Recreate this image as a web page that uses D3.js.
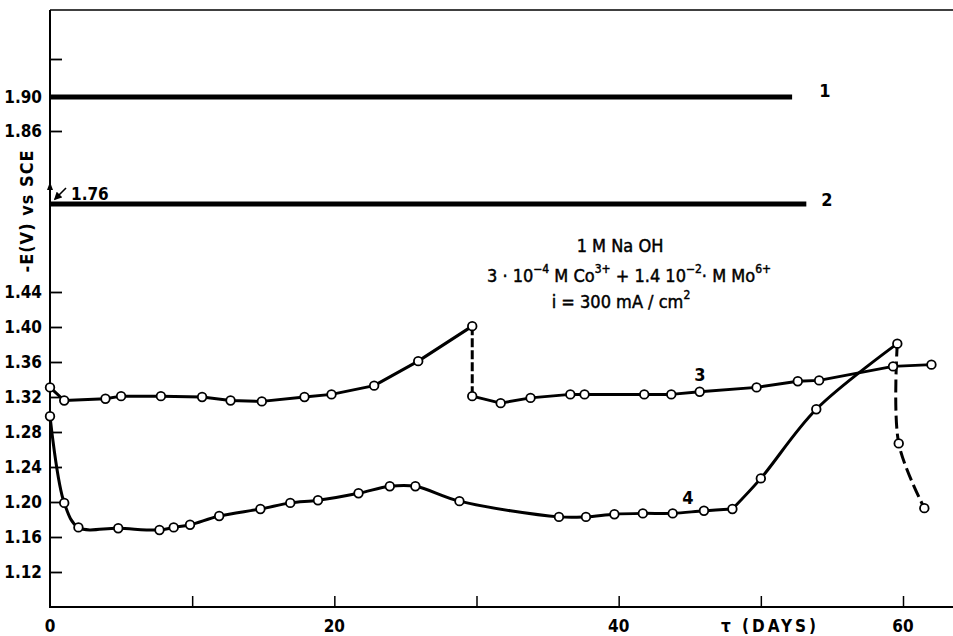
<!DOCTYPE html>
<html><head><meta charset="utf-8">
<script src="https://cdn.jsdelivr.net/npm/d3@7/dist/d3.min.js"></script>
<style>html,body{margin:0;padding:0;background:#fff;} svg{display:block;}</style>
</head><body>
<svg id="chart" width="953" height="636"></svg>
<script>
// ---- data ----
const line1 = {days:[0, 52.2], vals:[1.90, 1.90]};
const line2 = {days:[0, 53.2], vals:[1.76, 1.76]};

const curve3aDays = [0, 1.0, 3.9, 5.0, 7.8, 10.7, 12.7, 14.9, 17.9, 19.8, 22.8, 25.9, 29.7];
const curve3aVals = [1.331, 1.316, 1.318, 1.321, 1.321, 1.320, 1.316, 1.315, 1.320, 1.323, 1.333, 1.361, 1.401];
const curve3DropDays = [29.7, 29.7];
const curve3DropVals = [1.401, 1.321];
const curve3bDays = [29.7, 31.7, 33.8, 36.6, 37.6, 41.8, 43.7, 45.7, 49.7, 52.6, 54.1, 59.3, 62.0];
const curve3bVals = [1.321, 1.313, 1.319, 1.323, 1.323, 1.323, 1.323, 1.326, 1.331, 1.338, 1.339, 1.355, 1.357];

const curve4aDays = [0, 1.0, 2.0, 4.8, 7.7, 8.7, 9.85, 11.9, 14.8, 16.9, 18.85, 21.7, 23.9, 25.7, 28.8, 35.8, 37.7, 39.7, 41.7, 43.8, 46.0, 48.0];
const curve4aVals = [1.298, 1.199, 1.171, 1.170, 1.168, 1.171, 1.174, 1.184, 1.192, 1.199, 1.202, 1.210, 1.218, 1.218, 1.201, 1.183, 1.183, 1.186, 1.187, 1.187, 1.190, 1.192];
const curve4bDays = [48.0, 50.0, 53.9, 59.6];
const curve4bVals = [1.192, 1.227, 1.306, 1.381];
const curve4DropDays = [59.6, 59.7, 61.5];
const curve4DropVals = [1.381, 1.267, 1.193];

const xTickVals = [10, 20, 30, 40, 50, 60];
const xTickLabels = [0, 20, 40, 60];
const yTickVals = [1.12, 1.16, 1.20, 1.24, 1.28, 1.32, 1.36, 1.40, 1.44, 1.86, 1.94];
const yTickLabels = [1.12, 1.16, 1.20, 1.24, 1.28, 1.32, 1.36, 1.40, 1.44, 1.86, 1.90];

// ---- scales ----
const x = d3.scaleLinear().domain([0, 60]).range([50, 903]);
// broken (piecewise) voltage axis
const y = d3.scaleLinear().domain([1.08, 1.44, 1.76, 1.86, 1.90, 1.94]).range([607, 292, 204, 131, 97, 59]);

const svg = d3.select("#chart");
const FONT = "'DejaVu Sans Condensed','DejaVu Sans',sans-serif";
const zip = (d, v) => d.map((di, i) => [di, v[i]]);

// frame: left axis, bottom axis, top border
svg.append("line").attr("x1",50).attr("x2",50).attr("y1",10).attr("y2",608).attr("stroke","#000").attr("stroke-width",2);
svg.append("line").attr("x1",49).attr("x2",953).attr("y1",607).attr("y2",607).attr("stroke","#000").attr("stroke-width",2);
svg.append("line").attr("x1",50).attr("x2",953).attr("y1",10).attr("y2",10).attr("stroke","#000").attr("stroke-width",1.5);

// y ticks (inward)
const yAxis = d3.axisRight(y).tickValues(yTickVals).tickSize(12).tickFormat("");
const gy = svg.append("g").attr("transform","translate(50,0)").call(yAxis);
gy.select(".domain").remove();
gy.selectAll(".tick line").attr("stroke","#000").attr("stroke-width",1.8);

svg.append("g").selectAll("text").data(yTickLabels).join("text")
  .attr("x", 42).attr("y", d => y(d) + 6)
  .attr("text-anchor","end").attr("font-family",FONT).attr("font-weight","bold")
  .attr("font-size",17).text(d => d.toFixed(2));

// x ticks (inward)
const xAxis = d3.axisTop(x).tickValues(xTickVals).tickSize(11).tickFormat("");
const gx = svg.append("g").attr("transform","translate(0,607)").call(xAxis);
gx.select(".domain").remove();
gx.selectAll(".tick line").attr("stroke","#000").attr("stroke-width",1.5);

svg.append("g").selectAll("text").data(xTickLabels).join("text")
  .attr("x", d => x(d)).attr("y", 632)
  .attr("text-anchor","middle").attr("font-family",FONT).attr("font-weight","bold")
  .attr("font-size",17).text(d => d);

svg.append("text").attr("x",770).attr("y",632).attr("text-anchor","middle")
  .attr("font-family",FONT).attr("font-weight","bold").attr("font-size",17)
  .attr("letter-spacing",3).text("τ (DAYS)");

// y axis title
svg.append("text").attr("transform","translate(33,211) rotate(-90)").attr("text-anchor","middle")
  .attr("font-family",FONT).attr("font-weight","bold").attr("font-size",18)
  .attr("letter-spacing",1).text("-E(V) vs SCE");

// 1.76 annotation
svg.append("defs").append("marker").attr("id","ah").attr("viewBox","0 0 10 10")
  .attr("refX",8).attr("refY",5).attr("markerWidth",5).attr("markerHeight",5).attr("orient","auto")
  .append("path").attr("d","M0,0 L10,5 L0,10 z").attr("fill","#000");
svg.append("line").attr("x1",66).attr("y1",188).attr("x2",55).attr("y2",199)
  .attr("stroke","#000").attr("stroke-width",1.6).attr("marker-end","url(#ah)");
svg.append("path").attr("d","M47,190 L50,182 L53,190 z").attr("fill","#000");
svg.append("text").attr("x",71).attr("y",200).attr("font-family",FONT).attr("font-weight","bold")
  .attr("font-size",17).text("1.76");

// ---- lines ----
const lin = d3.line().x(d => x(d[0])).y(d => y(d[1])).curve(d3.curveLinear);
const smooth = d3.line().x(d => x(d[0])).y(d => y(d[1])).curve(d3.curveCatmullRom.alpha(0.5));

svg.append("path").attr("d", lin(zip(line1.days, line1.vals))).attr("fill","none").attr("stroke","#000").attr("stroke-width",5);
svg.append("path").attr("d", lin(zip(line2.days, line2.vals))).attr("fill","none").attr("stroke","#000").attr("stroke-width",5);

const sw = 3;
svg.append("path").attr("d", lin(zip(curve3aDays, curve3aVals))).attr("fill","none").attr("stroke","#000").attr("stroke-width",sw).attr("stroke-linejoin","round");
svg.append("path").attr("d", lin(zip(curve3DropDays, curve3DropVals))).attr("fill","none").attr("stroke","#000").attr("stroke-width",sw).attr("stroke-dasharray","9 3");
svg.append("path").attr("d", lin(zip(curve3bDays, curve3bVals))).attr("fill","none").attr("stroke","#000").attr("stroke-width",sw).attr("stroke-linejoin","round");

svg.append("path").attr("d", smooth(zip(curve4aDays, curve4aVals))).attr("fill","none").attr("stroke","#000").attr("stroke-width",sw);
svg.append("path").attr("d", smooth(zip(curve4bDays, curve4bVals))).attr("fill","none").attr("stroke","#000").attr("stroke-width",sw);
svg.append("path").attr("d", smooth(zip(curve4DropDays, curve4DropVals))).attr("fill","none").attr("stroke","#000").attr("stroke-width",sw).attr("stroke-dasharray","13 5");

// markers
const pts = [].concat(
  zip(curve3aDays, curve3aVals), zip(curve3bDays, curve3bVals),
  zip(curve4aDays, curve4aVals), zip(curve4bDays.slice(1), curve4bVals.slice(1)),
  zip(curve4DropDays.slice(1), curve4DropVals.slice(1))
);
svg.append("g").selectAll("circle").data(pts).join("circle")
  .attr("cx", d => x(d[0])).attr("cy", d => y(d[1])).attr("r", 4.3)
  .attr("fill","#fff").attr("stroke","#000").attr("stroke-width",1.8);

// curve labels
const lab = (t, px, py) => svg.append("text").attr("x",px).attr("y",py).attr("text-anchor","middle")
  .attr("font-family",FONT).attr("font-weight","bold").attr("font-size",18).text(t);
lab("1", 825, 97); lab("2", 827, 206); lab("3", 700, 381); lab("4", 688, 504);

// conditions text
const tf = 18;
const txt = (px, py) => svg.append("text").attr("x",px).attr("y",py).attr("text-anchor","middle")
  .attr("font-family",FONT).attr("font-size",tf).attr("stroke","#000").attr("stroke-width",0.45);
txt(620, 252).text("1 M  Na OH");
const t2 = txt(629, 282);
const parts = [["3 · 10",0],["−4",1],[" M Co",0],["3+",1],[" + 1.4 10",0],["−2",1],["· M Mo",0],["6+",1]];
let up = false;
parts.forEach(([s, sup]) => {
  const ts = t2.append("tspan").text(s);
  if (sup) { ts.attr("font-size", 12).attr("dy", up ? 0 : -9); up = true; }
  else { if (up) ts.attr("dy", 9); up = false; }
});
const t3 = txt(621, 308);
t3.append("tspan").text("i = 300 mA / cm");
t3.append("tspan").attr("font-size",12).attr("dy",-9).text("2");
</script>
</body></html>
